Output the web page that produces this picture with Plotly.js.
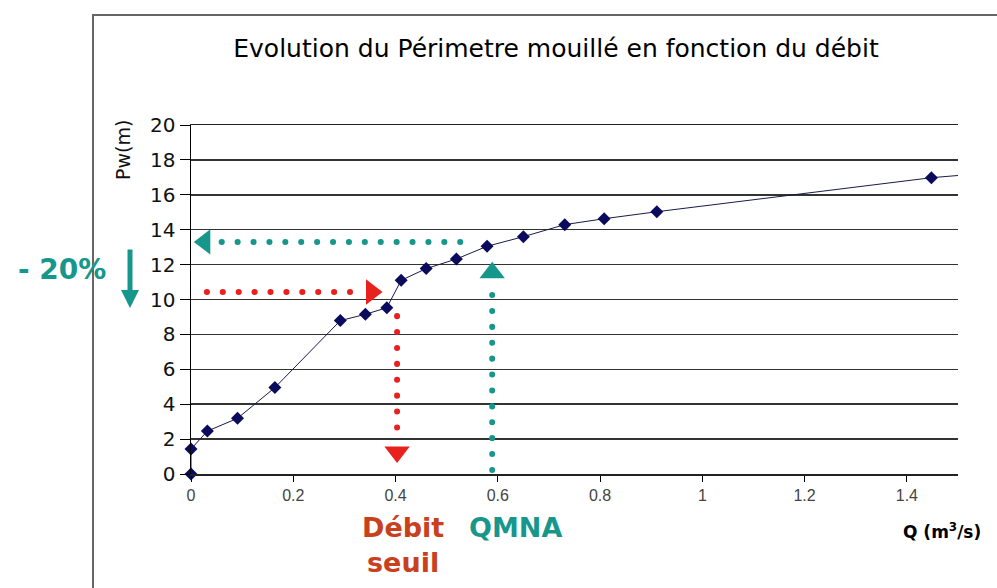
<!DOCTYPE html>
<html>
<head>
<meta charset="utf-8">
<script src="https://cdn.plot.ly/plotly-3.0.1.min.js"></script>
<style>
html,body{margin:0;padding:0;background:#fff;}
#chart{width:997px;height:588px;}
.scatterlayer path.js-line{stroke-linecap:round;}
</style>
</head>
<body>
<div id="chart"></div>
<script>
// Measured data: discharge Q (m3/s) and wetted perimeter Pw (m)
const Q  = [0, 0, 0.032, 0.091, 0.164, 0.292, 0.341, 0.383, 0.411, 0.46, 0.519, 0.579, 0.65, 0.731, 0.808, 0.911, 1.448];
const Pw = [0, 1.43, 2.46, 3.19, 4.95, 8.79, 9.15, 9.53, 11.1, 11.77, 12.32, 13.05, 13.6, 14.29, 14.63, 15.03, 16.98];
// Next point, beyond the visible axis range (only the line towards it shows)
const QNext = [1.6], PwNext = [17.35];

// Reference discharges and their perimeters
const qmna = 0.589, pwQmna = 13.3;
const qSeuil = 0.403, pwSeuil = 10.43;

// Guide segments (data coordinates)
const tealHx = [0.06, 0.532],  tealHy = [pwQmna, pwQmna];
const tealVx = [qmna, qmna],  tealVy = [0.23, 10.4];
const redHx  = [0.031, 0.312], redHy = [pwSeuil, pwSeuil];
const redVx  = [qSeuil, qSeuil], redVy = [9.05, 2.63];
// Arrowhead positions
const tealHeadX = [0.027, qmna], tealHeadY = [pwQmna, 11.54], tealHeadSym = ['triangle-left', 'triangle-up'];
const redHeadX  = [0.353, qSeuil], redHeadY = [pwSeuil, 1.26], redHeadSym = ['triangle-right', 'triangle-down'];

const xTicks = [0, 0.2, 0.4, 0.6, 0.8, 1, 1.2, 1.4];
const yTicks = [0, 2, 4, 6, 8, 10, 12, 14, 16, 18, 20];

const TEAL = '#17978c', RED = '#e8211f', NAVY = '#0b0b5e';
const dotStyle = {width: 6, dash: '0.1px,15.8px'};

const traces = [
  {x: tealHx, y: tealHy, mode: 'lines', line: Object.assign({color: TEAL}, dotStyle), hoverinfo: 'skip'},
  {x: tealVx, y: tealVy, mode: 'lines', line: Object.assign({color: TEAL}, dotStyle), hoverinfo: 'skip'},
  {x: redHx, y: redHy, mode: 'lines', line: Object.assign({color: RED}, dotStyle), hoverinfo: 'skip'},
  {x: redVx, y: redVy, mode: 'lines', line: Object.assign({color: RED}, dotStyle), hoverinfo: 'skip'},
  {x: tealHeadX, y: tealHeadY, mode: 'markers', marker: {symbol: tealHeadSym, size: 22, color: TEAL, line: {width: 0}}, hoverinfo: 'skip'},
  {x: redHeadX, y: redHeadY, mode: 'markers', marker: {symbol: redHeadSym, size: 22, color: RED, line: {width: 0}}, hoverinfo: 'skip'},
  {x: Q.concat(QNext), y: Pw.concat(PwNext), mode: 'lines', line: {color: '#1a1a4a', width: 1}},
  {x: Q, y: Pw, mode: 'markers', cliponaxis: false, marker: {symbol: 'diamond', size: 10, color: NAVY}}
];

const pxX = v => (v - 191) / 767;       // helper: pixel to paper x
const pxY = v => (474 - v) / 349;       // helper: pixel to paper y

const ann = (text, x, y, size, color, extra) => Object.assign({
  text: text, xref: 'paper', yref: 'paper', x: pxX(x), y: pxY(y),
  xanchor: 'center', yanchor: 'middle', showarrow: false,
  font: {family: 'DejaVu Sans, Arial, sans-serif', size: size, color: color}
}, extra || {});

const layout = {
  width: 997, height: 588,
  margin: {l: 191, r: 39, t: 125, b: 114},
  paper_bgcolor: '#fff', plot_bgcolor: '#fff',
  showlegend: false,
  font: {family: 'DejaVu Sans, Arial, sans-serif', color: '#111'},
  title: {
    text: 'Evolution du Périmetre mouillé en fonction du débit',
    font: {family: 'DejaVu Sans, Arial, sans-serif', size: 25, color: '#000'},
    x: 556 / 997, xanchor: 'center', xref: 'container',
    y: 1 - 48 / 588, yanchor: 'middle', yref: 'container'
  },
  xaxis: {
    range: [0, 1.5], tickvals: xTicks, ticktext: xTicks.map(String),
    ticks: 'outside', ticklen: 6, tickcolor: '#000', tickwidth: 1,
    showline: true, linecolor: '#222', linewidth: 1.5, mirror: true,
    showgrid: false, zeroline: false,
    tickfont: {family: 'Liberation Sans Narrow, Arial Narrow, Liberation Sans, sans-serif', size: 16, color: '#444'}
  },
  yaxis: {
    range: [0, 20], tickvals: yTicks,
    ticks: 'outside', ticklen: 10, tickcolor: '#000', tickwidth: 1,
    showline: true, linecolor: '#000', linewidth: 1.5,
    showgrid: true, gridcolor: '#333', gridwidth: 1.5, zeroline: false,
    tickfont: {family: 'DejaVu Sans, Arial, sans-serif', size: 20, color: '#111'}
  },
  shapes: [
    {type: 'path', xref: 'paper', yref: 'paper',
     path: 'M ' + pxX(93) + ' ' + pxY(620) + ' L ' + pxX(93) + ' ' + pxY(15) + ' L ' + pxX(1010) + ' ' + pxY(15),
     line: {color: '#666', width: 2}}
  ],
  annotations: [
    ann('Pw(m)', 123, 150, 19, '#111', {textangle: -90}),
    ann('<b>Q (m<sup>3</sup>/s)</b>', 942, 531, 17, '#000'),
    ann('<b>Débit<br>seuil</b>', 403, 545, 27, '#c8401e'),
    ann('<b>QMNA</b>', 515, 527, 27, TEAL),
    ann('<b>- 20%</b>', 62, 269, 28, TEAL),
    {text: '', xref: 'paper', yref: 'paper', x: pxX(130), y: pxY(308), ax: 0, ay: -60,
     showarrow: true, arrowhead: 2, arrowsize: 0.72, arrowwidth: 5, arrowcolor: TEAL}
  ]
};

Plotly.newPlot('chart', traces, layout, {displayModeBar: false, staticPlot: true});
</script>
</body>
</html>
